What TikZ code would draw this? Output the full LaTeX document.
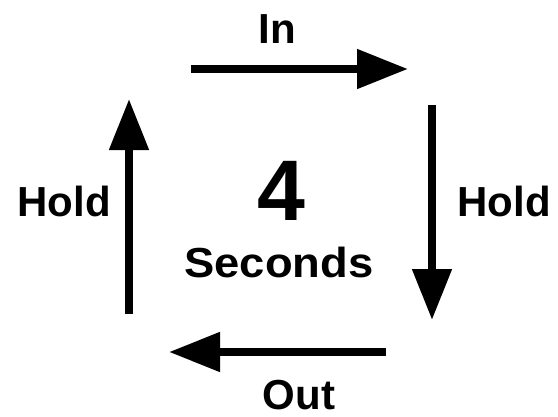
\documentclass[tikz,border=0pt]{standalone}
\usepackage{fontspec}
\setmainfont{Liberation Sans}
\usetikzlibrary{arrows.meta}
\tikzset{
  lbl/.style={anchor=base, inner sep=0pt, font=\bfseries\fontsize{42}{50}\selectfont},
  big/.style={anchor=base, inner sep=0pt, font=\bfseries\fontsize{86}{100}\selectfont},
  flow/.style={line width=8pt, -{Triangle[length=51pt, width=38pt]}}
}
\begin{document}
\begin{tikzpicture}[x=1pt,y=-1pt]
\useasboundingbox (0,0) rectangle (558,416);
\node[lbl] (in) at (277,43) {In};
\node[lbl] (holdl) at (64,216) {Hold};
\node[lbl] (holdr) at (504,216) {Hold};
\node[big] (four) at (281,220) {4};
\node[lbl] (sec) at (279,277) {\scalebox{1.08}[1]{Seconds}};
\node[lbl, text depth=0pt] (out) at (299,409) {Out};
\coordinate (ta) at (191,69);
\coordinate (tb) at (408,69);
\coordinate (ra) at (432,105);
\coordinate (rb) at (432,320);
\coordinate (ba) at (386,352);
\coordinate (bb) at (169,352);
\coordinate (la) at (129,314);
\coordinate (lb) at (129,99);
\draw[flow] (ta) -- (tb);
\draw[flow] (ra) -- (rb);
\draw[flow] (ba) -- (bb);
\draw[flow] (la) -- (lb);
\end{tikzpicture}
\end{document}
